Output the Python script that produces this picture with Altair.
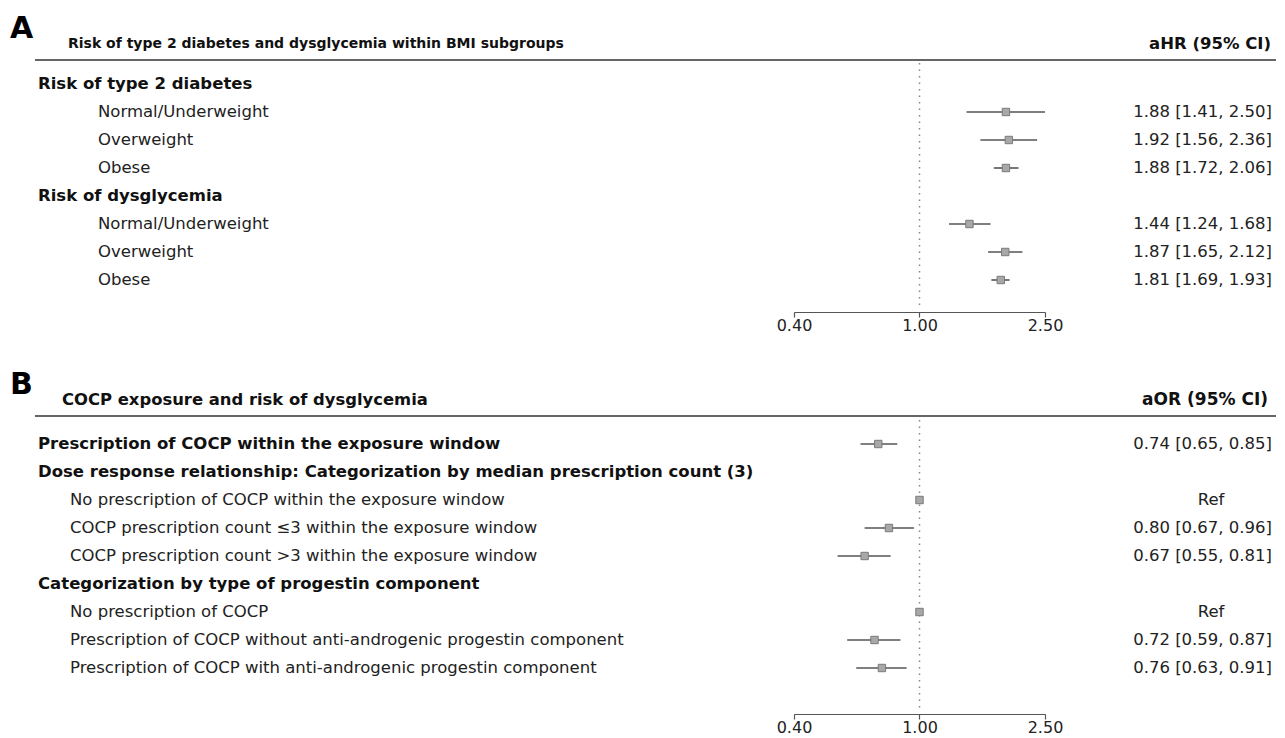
import altair as alt
import pandas as pd

FONT = "DejaVu Sans"

# ---------------- data: panel A ----------------
a_letter = "A"
a_title = "Risk of type 2 diabetes and dysglycemia within BMI subgroups"
a_col = "aHR (95% CI)"
a_labels = ["Risk of type 2 diabetes", "Normal/Underweight", "Overweight", "Obese",
            "Risk of dysglycemia", "Normal/Underweight", "Overweight", "Obese"]
a_bold = [True, False, False, False, True, False, False, False]
a_est = [None, 1.88, 1.92, 1.88, None, 1.44, 1.87, 1.81]
a_lo = [None, 1.41, 1.56, 1.72, None, 1.24, 1.65, 1.69]
a_hi = [None, 2.50, 2.36, 2.06, None, 1.68, 2.12, 1.93]

# ---------------- data: panel B ----------------
b_letter = "B"
b_title = "COCP exposure and risk of dysglycemia"
b_col = "aOR (95% CI)"
b_labels = ["Prescription of COCP within the exposure window",
            "Dose response relationship: Categorization by median prescription count (3)",
            "No prescription of COCP within the exposure window",
            "COCP prescription count \u22643 within the exposure window",
            "COCP prescription count >3 within the exposure window",
            "Categorization by type of progestin component",
            "No prescription of COCP",
            "Prescription of COCP without anti-androgenic progestin component",
            "Prescription of COCP with anti-androgenic progestin component"]
b_bold = [True, True, False, False, False, True, False, False, False]
b_est = [0.74, None, 1.00, 0.80, 0.67, None, 1.00, 0.72, 0.76]
b_lo = [0.65, None, None, 0.67, 0.55, None, None, 0.59, 0.63]
b_hi = [0.85, None, None, 0.96, 0.81, None, None, 0.87, 0.91]

x_ticks = [0.40, 1.00, 2.50]
x_domain = [0.40, 2.50]
ref_value = 1.0

# ---------------- layout ----------------
W = 1268
ROW = 28
FS = 16.5


def ci_text(e, l, h):
    if e is not None and l is not None:
        return f"{e:.2f} [{l:.2f}, {h:.2f}]"
    if e is not None:
        return "Ref"
    return ""


def panel(letter, title, col, labels, bold, est, lo, hi, indent, title_x,
          title_fs, col_fs, col_x, height, row0, vline, line_y):
    df = pd.DataFrame({
        "row": list(range(len(labels))),
        "label": labels,
        "bold": bold,
        "est": est,
        "lo": lo,
        "hi": hi,
        "ci": [ci_text(e, l, h) for e, l, h in zip(est, lo, hi)],
    })
    ysc = alt.Scale(domain=[-row0 / ROW, (height - row0) / ROW], reverse=True,
                    nice=False, zero=False)
    xsc = alt.Scale(type="log", domain=x_domain, range=[786, 1037], nice=False)
    xaxis = alt.Axis(values=x_ticks, format=".2f", title=None, grid=False,
                     labelFlush=False, labelFont=FONT, labelFontSize=16,
                     labelColor="#222", labelPadding=0, domainColor="#555",
                     tickColor="#555", tickSize=5, domainWidth=1.2, tickWidth=1.2)
    Y = alt.Y("row:Q", scale=ysc, axis=None)
    base = alt.Chart(df)

    vl = alt.Chart(pd.DataFrame({"v": [ref_value]})).mark_rule(
        color="#888", strokeDash=[1.5, 5], strokeWidth=1.5
    ).encode(x=alt.X("v:Q", scale=xsc, axis=xaxis),
             y=alt.value(vline[0]), y2=alt.value(vline[1]))

    ci = base.transform_filter("isValid(datum.lo)").mark_rule(
        color="#555", strokeWidth=1.6
    ).encode(x=alt.X("lo:Q", scale=xsc, axis=xaxis), x2="hi:Q", y=Y)

    pts = base.transform_filter("isValid(datum.est)").mark_square(
        size=55, color="#a8a8a8", stroke="#7a7a7a", strokeWidth=1, opacity=1,
        filled=True
    ).encode(x=alt.X("est:Q", scale=xsc, axis=xaxis), y=Y)

    lab_b = base.transform_filter("datum.bold").mark_text(
        align="left", baseline="middle", font=FONT, fontSize=FS,
        fontWeight="bold", color="#111"
    ).encode(x=alt.value(30), y=Y, text="label:N")

    lab_n = base.transform_filter("!datum.bold").mark_text(
        align="left", baseline="middle", font=FONT, fontSize=FS, color="#222"
    ).encode(x=alt.value(indent), y=Y, text="label:N")

    vals = base.transform_filter("isValid(datum.lo)").mark_text(
        align="right", baseline="middle", font=FONT, fontSize=FS, color="#222"
    ).encode(x=alt.value(1264), y=Y, text="ci:N")

    refs = base.transform_filter("isValid(datum.est) && !isValid(datum.lo)").mark_text(
        align="center", baseline="middle", font=FONT, fontSize=FS, color="#222"
    ).encode(x=alt.value(1203), y=Y, text="ci:N")

    hline = alt.Chart(pd.DataFrame({"k": [0]})).mark_rule(
        color="#333", strokeWidth=1.3
    ).encode(x=alt.value(27), x2=alt.value(W), y=alt.value(line_y))

    ttl = alt.Chart(pd.DataFrame({"t": [title]})).mark_text(
        align="left", baseline="middle", font=FONT, fontSize=title_fs,
        fontWeight="bold", color="#111"
    ).encode(x=alt.value(title_x), y=alt.value(line_y - 16), text="t:N")

    colt = alt.Chart(pd.DataFrame({"t": [col]})).mark_text(
        align="right", baseline="middle", font=FONT, fontSize=col_fs,
        fontWeight="bold", color="#111"
    ).encode(x=alt.value(col_x), y=alt.value(line_y - 16), text="t:N")

    let = alt.Chart(pd.DataFrame({"t": [letter]})).mark_text(
        align="left", baseline="alphabetic", font=FONT, fontSize=30,
        fontWeight="bold", color="#000"
    ).encode(x=alt.value(2), y=alt.value(line_y - 22), text="t:N")

    return alt.layer(vl, ci, pts, lab_b, lab_n, vals, refs, hline, ttl, colt, let
                     ).properties(width=W, height=height)


pa = panel(a_letter, a_title, a_col, a_labels, a_bold, a_est, a_lo, a_hi,
           indent=90, title_x=60, title_fs=14, col_fs=16.5, col_x=1263,
           height=304, row0=76, vline=(55, 301), line_y=52)
pb = panel(b_letter, b_title, b_col, b_labels, b_bold, b_est, b_lo, b_hi,
           indent=62, title_x=54, title_fs=16.4, col_fs=17, col_x=1260,
           height=349, row0=79, vline=(55, 343), line_y=51)

chart = alt.vconcat(pa, pb, spacing=32).properties(
    padding=0, background="white"
).configure_view(stroke=None)

chart.save("out.html", embed_options={"renderer": "svg", "actions": False})
